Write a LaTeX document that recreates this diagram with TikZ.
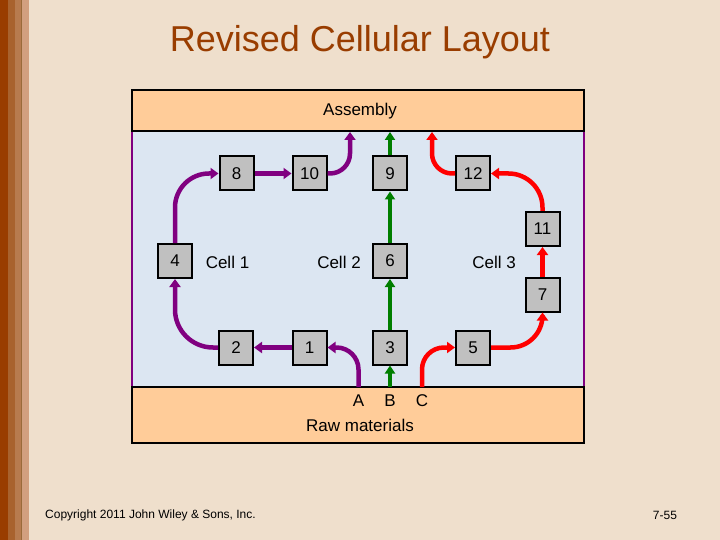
\documentclass[tikz,border=0pt]{standalone}
\usepackage{fontspec}
\setmainfont{Liberation Sans}
\usetikzlibrary{arrows.meta}
\definecolor{bgc}{HTML}{EFDFCC}
\definecolor{s1}{HTML}{993D00}
\definecolor{s2}{HTML}{A8622E}
\definecolor{s3}{HTML}{B77B4F}
\definecolor{s4}{HTML}{D29F7F}
\definecolor{sline}{HTML}{9A6A3A}
\definecolor{titlec}{HTML}{993D00}
\definecolor{peach}{HTML}{FFCC99}
\definecolor{cellbg}{HTML}{DCE6F2}
\definecolor{boxgray}{HTML}{C0C0C0}
\definecolor{pur}{HTML}{800080}
\definecolor{grn}{HTML}{007F00}
\definecolor{rd}{HTML}{FF0000}
\tikzset{
  mach/.style={draw=black, line width=2pt, fill=boxgray, minimum width=34pt, minimum height=34pt, inner sep=0pt, font=\fontsize{17}{20}\selectfont},
  lbl/.style={inner sep=0pt, font=\fontsize{17}{20}\selectfont},
  parr/.style={draw=pur, line width=4.5pt, -{Triangle[width=11pt,length=8pt]}},
  garr/.style={draw=grn, line width=3.5pt, -{Triangle[width=10pt,length=8pt]}},
  rarr/.style={draw=rd, line width=4.5pt, -{Triangle[width=11pt,length=8pt]}},
}
\begin{document}
\begin{tikzpicture}[x=1pt,y=-1pt]
\useasboundingbox (0,0) rectangle (720,540);
\fill[bgc] (0,0) rectangle (720,540);
\fill[s1] (0,0) rectangle (8,540);
\fill[s2] (8,0) rectangle (15,540);
\fill[s3] (15,0) rectangle (21,540);
\fill[sline] (21,0) rectangle (22,540);
\fill[s4] (22,0) rectangle (29,540);
% title
\node[text=titlec, font=\fontsize{36}{40}\selectfont] (title) at (360,42) {Revised Cellular Layout};
% frame
\fill[cellbg] (132,131) rectangle (584,387);
\draw[pur, line width=2pt] (132,131) -- (132,387) (584,131) -- (584,387);
\node[draw=black, line width=2pt, fill=peach, minimum width=452pt, minimum height=41pt, inner sep=0pt] (asm) at (358,110.5) {};
\node[lbl] (asmt) at (360,111) {Assembly};
\node[draw=black, line width=2pt, fill=peach, minimum width=452pt, minimum height=56pt, inner sep=0pt] (raw) at (358,415) {};
\node[lbl] (rawt) at (360,425) {Raw materials};
\node[lbl] (A) at (358.5,401) {A};
\node[lbl] (B) at (390,401) {B};
\node[lbl] (C) at (422,401) {C};
% machines
\node[mach] (m8) at (236.5,173.5) {8};
\node[mach] (m10) at (309.5,173.5) {10};
\node[mach] (m9) at (390,173.5) {9};
\node[mach] (m12) at (473,173.5) {12};
\node[mach] (m11) at (542.5,229) {11};
\node[mach] (m4) at (175,261) {4};
\node[mach] (m6) at (390,261) {6};
\node[mach] (m7) at (542.5,294.5) {7};
\node[mach] (m2) at (236,347.5) {2};
\node[mach] (m1) at (309.5,347.5) {1};
\node[mach] (m3) at (390,347.5) {3};
\node[mach] (m5) at (473,347.5) {5};
\node[lbl] (c1) at (227.5,262) {Cell 1};
\node[lbl] (c2) at (339,262) {Cell 2};
\node[lbl] (c3) at (494,262) {Cell 3};
% anchor coordinates on the bands
\coordinate (asmP) at (350,132);
\coordinate (asmG) at (390,132);
\coordinate (asmR) at (432,132);
\coordinate (rawA) at (358.5,387);
\coordinate (rawB) at (390,387);
\coordinate (rawC) at (422,387);
% purple (cell 1)
\draw[parr, rounded corners=22pt] (rawA) |- (m1.east);
\draw[parr] (m1.west) -- (m2.east);
\draw[parr, rounded corners=38pt] (m2.west) -| (m4.south);
\draw[parr, rounded corners=34pt] (m4.north) |- (m8.west);
\draw[parr] (m8.east) -- (m10.west);
\draw[parr, rounded corners=20pt] (m10.east) -| (asmP);
% green (cell 2)
\draw[garr] (rawB) -- (m3.south);
\draw[garr] (m3.north) -- (m6.south);
\draw[garr] (m6.north) -- (m9.south);
\draw[garr] (m9.north) -- (asmG);
% red (cell 3)
\draw[rarr, rounded corners=22pt] (rawC) |- (m5.west);
\draw[rarr, rounded corners=32pt] (m5.east) -| (m7.south);
\draw[rarr, rounded corners=34pt] (m11.north) |- (m12.east);
\draw[rarr] (m7.north) -- (m11.south);
\draw[rarr, rounded corners=20pt] (m12.west) -| (asmR);
% footer
\node[anchor=west, inner sep=0pt, font=\fontsize{12}{14}\selectfont] (copy) at (45,515) {Copyright 2011 John Wiley \& Sons, Inc.};
\node[inner sep=0pt, font=\fontsize{12}{14}\selectfont] (pg) at (665,515) {7-55};
\end{tikzpicture}
\end{document}
